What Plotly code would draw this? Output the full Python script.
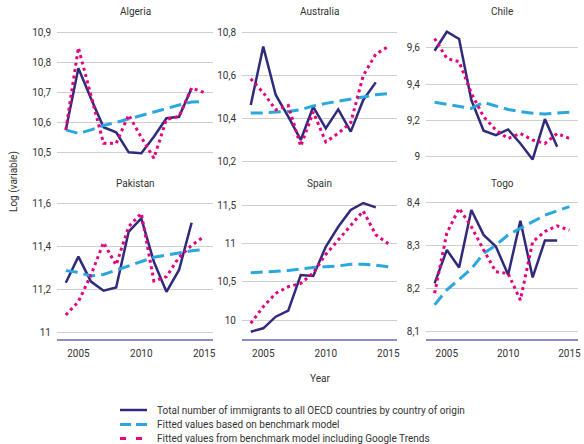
import plotly.graph_objects as go

W, H = 584, 444

years = list(range(2004, 2016))
years_obs = list(range(2004, 2015))

countries = ["Algeria", "Australia", "Chile", "Pakistan", "Spain", "Togo"]

actual_algeria = [10.575, 10.781, 10.68, 10.584, 10.567, 10.50, 10.497, 10.552, 10.614, 10.619, 10.714]
bench_algeria = [10.575, 10.563, 10.575, 10.59, 10.60, 10.612, 10.622, 10.635, 10.648, 10.658, 10.668, 10.67]
gt_algeria = [10.575, 10.85, 10.69, 10.53, 10.53, 10.625, 10.55, 10.48, 10.61, 10.62, 10.715, 10.70]

actual_australia = [10.462, 10.735, 10.509, 10.408, 10.299, 10.454, 10.353, 10.442, 10.338, 10.486, 10.568]
bench_australia = [10.425, 10.425, 10.43, 10.432, 10.44, 10.458, 10.47, 10.48, 10.49, 10.50, 10.51, 10.515]
gt_australia = [10.585, 10.52, 10.44, 10.46, 10.27, 10.43, 10.29, 10.33, 10.38, 10.60, 10.70, 10.735]

actual_chile = [9.583, 9.688, 9.648, 9.312, 9.143, 9.119, 9.150, 9.073, 8.985, 9.207, 9.055]
bench_chile = [9.30, 9.29, 9.28, 9.266, 9.299, 9.28, 9.26, 9.248, 9.239, 9.235, 9.24, 9.245]
gt_chile = [9.651, 9.541, 9.523, 9.349, 9.22, 9.147, 9.10, 9.128, 9.092, 9.073, 9.128, 9.10]

actual_pakistan = [11.232, 11.353, 11.237, 11.195, 11.21, 11.469, 11.53, 11.329, 11.19, 11.291, 11.51]
bench_pakistan = [11.288, 11.28, 11.263, 11.27, 11.29, 11.31, 11.33, 11.35, 11.36, 11.37, 11.38, 11.385]
gt_pakistan = [11.082, 11.144, 11.268, 11.418, 11.314, 11.492, 11.554, 11.24, 11.26, 11.35, 11.405, 11.447]

actual_spain = [9.847, 9.891, 10.044, 10.123, 10.59, 10.577, 10.96, 11.224, 11.443, 11.535, 11.478]
bench_spain = [10.62, 10.63, 10.64, 10.65, 10.67, 10.69, 10.70, 10.71, 10.73, 10.73, 10.72, 10.70]
gt_spain = [9.956, 10.175, 10.35, 10.437, 10.48, 10.62, 10.86, 11.05, 11.25, 11.43, 11.12, 11.0]

actual_togo = [8.211, 8.289, 8.248, 8.382, 8.324, 8.297, 8.231, 8.357, 8.225, 8.311, 8.311]
bench_togo = [8.161, 8.196, 8.22, 8.245, 8.281, 8.30, 8.324, 8.34, 8.355, 8.37, 8.38, 8.39]
gt_togo = [8.188, 8.328, 8.386, 8.343, 8.289, 8.238, 8.234, 8.172, 8.308, 8.332, 8.345, 8.335]

tickvals = {
    "Algeria": [10.5, 10.6, 10.7, 10.8, 10.9],
    "Australia": [10.2, 10.4, 10.6, 10.8],
    "Chile": [9.0, 9.2, 9.4, 9.6],
    "Pakistan": [11.0, 11.2, 11.4, 11.6],
    "Spain": [10.0, 10.5, 11.0, 11.5],
    "Togo": [8.1, 8.2, 8.3, 8.4],
}
ticktext = {
    "Algeria": ["10,5", "10,6", "10,7", "10,8", "10,9"],
    "Australia": ["10,2", "10,4", "10,6", "10,8"],
    "Chile": ["9", "9,2", "9,4", "9,6"],
    "Pakistan": ["11", "11,2", "11,4", "11,6"],
    "Spain": ["10", "10,5", "11", "11,5"],
    "Togo": ["8,1", "8,2", "8,3", "8,4"],
}
yranges = {
    "Algeria": [10.4475, 10.9258],
    "Australia": [10.168, 10.836],
    "Chile": [8.938, 9.725],
    "Pakistan": [10.971, 11.634],
    "Spain": [9.751, 11.627],
    "Togo": [8.0814, 8.4147],
}
data = {
    "Algeria": (actual_algeria, bench_algeria, gt_algeria),
    "Australia": (actual_australia, bench_australia, gt_australia),
    "Chile": (actual_chile, bench_chile, gt_chile),
    "Pakistan": (actual_pakistan, bench_pakistan, gt_pakistan),
    "Spain": (actual_spain, bench_spain, gt_spain),
    "Togo": (actual_togo, bench_togo, gt_togo),
}

series_names = [
    "Total number of immigrants to all OECD countries by country of origin",
    "Fitted values based on benchmark model",
    "Fitted values from benchmark model including Google Trends",
]

NAVY = "#2f2a7c"
BLUE = "#2aa7df"
PINK = "#e5007d"
GRID = "#cfcfcf"
AXIS = "#8f8bc9"
TXT = "#333333"
FONT = "Roboto, Liberation Sans, sans-serif"

col_px = [(57, 213), (242, 397), (426, 578)]
row_px = [(25, 168), (196, 339)]

fig = go.Figure()
layout = dict(
    width=W, height=H,
    margin=dict(l=0, r=0, t=0, b=0, autoexpand=False),
    paper_bgcolor="white", plot_bgcolor="white",
    font=dict(family=FONT, size=10, color=TXT),
    showlegend=False,
)
annotations = []
shapes = []

for i, c in enumerate(countries):
    r, k = divmod(i, 3)
    n = i + 1
    xa = "x" if n == 1 else f"x{n}"
    ya = "y" if n == 1 else f"y{n}"
    act, ben, gt = data[c]
    fig.add_trace(go.Scatter(x=years_obs, y=act, mode="lines", xaxis=xa, yaxis=ya,
                             line=dict(color=NAVY, width=2.5), name=series_names[0]))
    fig.add_trace(go.Scatter(x=years, y=ben, mode="lines", xaxis=xa, yaxis=ya,
                             line=dict(color=BLUE, width=3, dash="12px,6px"), name=series_names[1]))
    fig.add_trace(go.Scatter(x=years, y=gt, mode="lines", xaxis=xa, yaxis=ya,
                             line=dict(color=PINK, width=3, dash="3px,3.5px"), name=series_names[2]))
    x0, x1 = col_px[k]
    y0, y1 = row_px[r]
    xdom = [x0 / W, x1 / W]
    ydom = [1 - y1 / H, 1 - y0 / H]
    xkey = "xaxis" if n == 1 else f"xaxis{n}"
    ykey = "yaxis" if n == 1 else f"yaxis{n}"
    layout[xkey] = dict(
        domain=xdom, anchor=ya, range=[2003.3, 2015.7],
        tickvals=[2005, 2010, 2015], ticktext=["2005", "2010", "2015"],
        showticklabels=(r == 1), showgrid=False, zeroline=False,
        showline=(r == 1), linecolor=AXIS, linewidth=1.5,
        ticks="", ticklabelstandoff=4,
        tickfont=dict(size=10, color=TXT),
    )
    layout[ykey] = dict(
        domain=ydom, anchor=xa, range=yranges[c],
        tickvals=tickvals[c], ticktext=ticktext[c],
        showgrid=True, gridcolor=GRID, gridwidth=1, zeroline=False,
        showline=False, ticks="", ticklabelstandoff=5,
        tickfont=dict(size=10, color=TXT),
    )
    annotations.append(dict(
        text=c, x=(x0 + x1) / 2 / W, y=1 - (y0 - 13) / H, xref="paper", yref="paper",
        xanchor="center", yanchor="middle", showarrow=False,
        font=dict(size=10, color=TXT),
    ))

annotations.append(dict(text="Year", x=320 / W, y=1 - 378 / H, xref="paper", yref="paper",
                        xanchor="center", yanchor="middle", showarrow=False,
                        font=dict(size=10, color=TXT)))
annotations.append(dict(text="Log (variable)", x=14 / W, y=1 - 182 / H, xref="paper", yref="paper",
                        xanchor="center", yanchor="middle", showarrow=False, textangle=-90,
                        font=dict(size=10, color=TXT)))

# legend (manual key)
legend_styles = [
    dict(color=NAVY, width=2.5, dash="solid"),
    dict(color=BLUE, width=3, dash="11px,5px"),
    dict(color=PINK, width=3, dash="6px,10px"),
]
legend_y = [410, 424.5, 438.5]
for nm, st, ypx in zip(series_names, legend_styles, legend_y):
    yy = 1 - ypx / H
    shapes.append(dict(type="line", xref="paper", yref="paper",
                       x0=120 / W, x1=147 / W, y0=yy, y1=yy, line=st))
    annotations.append(dict(text=nm, x=155 / W, y=yy, xref="paper", yref="paper",
                            xanchor="left", yanchor="middle", showarrow=False,
                            font=dict(size=10, color=TXT)))

layout["annotations"] = annotations
layout["shapes"] = shapes
fig.update_layout(**layout)
fig.write_html("out.html", config={"displayModeBar": False},
               post_script="document.body.style.margin='0';document.body.style.overflow='hidden';")
